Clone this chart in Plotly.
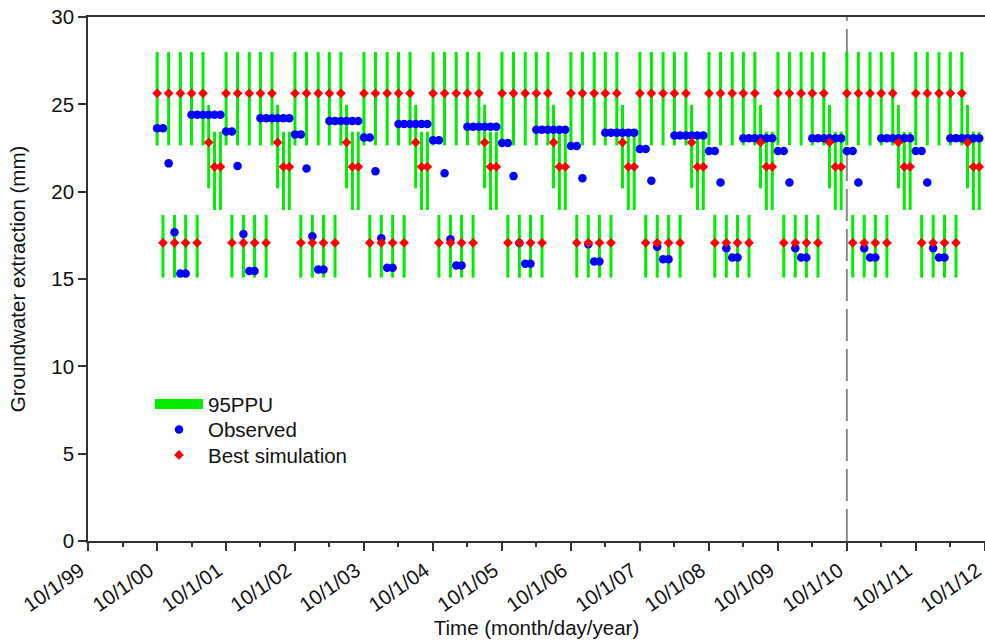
import pandas as pd
import plotly.graph_objects as go

# ---- data ----
water_years = list(range(2000, 2012))          # Oct of each year .. Sep of next
month_labels = ["Oct", "Nov", "Dec", "Jan", "Feb", "Mar",
                "Apr", "May", "Jun", "Jul", "Aug", "Sep"]

# monthly pattern of best simulation and 95PPU bounds (identical every year)
sim_month = [25.63, 17.07, 25.63, 17.07, 25.63, 17.07,
             25.63, 17.07, 25.63, 22.82, 21.42, 21.42]
ppu_low_month = [22.65, 15.08, 22.65, 15.08, 22.65, 15.08,
                 22.65, 15.08, 22.65, 20.19, 18.95, 18.95]
ppu_high_month = [28.00, 18.67, 28.00, 18.67, 28.00, 18.67,
                  28.00, 18.67, 28.00, 24.96, 23.43, 23.43]

# observed values per water year (Oct..Sep)
obs_2000 = [23.63, 23.63, 21.62, 17.67, 15.31, 15.31, 24.41, 24.41, 24.41, 24.41, 24.41, 24.41]
obs_2001 = [23.44, 23.44, 21.47, 17.58, 15.46, 15.46, 24.20, 24.20, 24.20, 24.20, 24.20, 24.20]
obs_2002 = [23.28, 23.28, 21.33, 17.45, 15.54, 15.54, 24.04, 24.04, 24.04, 24.04, 24.04, 24.04]
obs_2003 = [23.10, 23.10, 21.17, 17.33, 15.64, 15.64, 23.87, 23.87, 23.87, 23.87, 23.87, 23.87]
obs_2004 = [22.94, 22.94, 21.05, 17.27, 15.78, 15.78, 23.72, 23.72, 23.72, 23.72, 23.72, 23.72]
obs_2005 = [22.79, 22.79, 20.89, 17.06, 15.87, 15.87, 23.54, 23.54, 23.54, 23.54, 23.54, 23.54]
obs_2006 = [22.61, 22.61, 20.77, 16.99, 16.00, 16.00, 23.38, 23.38, 23.38, 23.38, 23.38, 23.38]
obs_2007 = [22.44, 22.44, 20.63, 16.85, 16.13, 16.13, 23.21, 23.21, 23.21, 23.21, 23.21, 23.21]
obs_2008 = [22.33, 22.33, 20.52, 16.76, 16.23, 16.23, 23.06, 23.06, 23.06, 23.06, 23.06, 23.06]
obs_2009 = [22.33, 22.33, 20.52, 16.76, 16.23, 16.23, 23.06, 23.06, 23.06, 23.06, 23.06, 23.06]
obs_2010 = [22.33, 22.33, 20.52, 16.76, 16.23, 16.23, 23.06, 23.06, 23.06, 23.06, 23.06, 23.06]
obs_2011 = [22.33, 22.33, 20.52, 16.76, 16.23, 16.23, 23.06, 23.06, 23.06, 23.06, 23.06, 23.06]
observed_by_year = [obs_2000, obs_2001, obs_2002, obs_2003, obs_2004, obs_2005,
                    obs_2006, obs_2007, obs_2008, obs_2009, obs_2010, obs_2011]

tick_dates = ["%d-10-01" % y for y in range(1999, 2013)]
tick_text = ["10/1/%02d" % (y % 100) for y in range(1999, 2013)]
minor_dates = ["%d-04-01" % y for y in range(2000, 2013)]
split_date = "2010-10-01"

# ---- assemble series ----
dates = pd.date_range("2000-10-01", periods=len(water_years) * 12, freq="MS")
observed = [v for yr in observed_by_year for v in yr]
simulated = sim_month * len(water_years)
ppu_low = ppu_low_month * len(water_years)
ppu_high = ppu_high_month * len(water_years)

seg_x, seg_y = [], []
for d, lo, hi in zip(dates, ppu_low, ppu_high):
    seg_x += [d, d, None]
    seg_y += [lo, hi, None]

FONT = "Liberation Sans, Arial, sans-serif"
FS = 20.5
GREEN = "#00EE00"

fig = go.Figure()
fig.add_trace(go.Scatter(x=seg_x, y=seg_y, mode="lines", name="95PPU",
                         line=dict(color=GREEN, width=3), showlegend=False,
                         legendgroup="ppu", hoverinfo="skip"))
fig.add_trace(go.Scatter(x=[None], y=[None], mode="lines", name="95PPU",
                         line=dict(color=GREEN, width=14), legendgroup="ppu",
                         legend="legend"))
fig.add_trace(go.Scatter(x=dates, y=observed, mode="markers", name="Observed",
                         marker=dict(color="#0000FF", size=8.5, symbol="circle"),
                         legend="legend2"))
fig.add_trace(go.Scatter(x=dates, y=simulated, mode="markers", name="Best simulation",
                         marker=dict(color="#FF0000", size=7.5, symbol="diamond"),
                         legend="legend3"))

fig.add_shape(type="line", xref="x", yref="paper", x0=split_date, x1=split_date,
              y0=0, y1=1, layer="below",
              line=dict(color="#8a8a8a", width=2, dash="32px,8px"))

def leg(y):
    return dict(x=0.0691, y=y, xanchor="left", yanchor="middle",
                bgcolor="rgba(0,0,0,0)", font=dict(family=FONT, size=FS, color="#111"),
                itemwidth=48, borderwidth=0)

fig.update_layout(
    width=985, height=643,
    margin=dict(l=88, r=0, t=17, b=102, autoexpand=False),
    paper_bgcolor="white", plot_bgcolor="white",
    font=dict(family=FONT, size=FS, color="#111"),
    legend=leg(0.2612), legend2=leg(0.2125), legend3=leg(0.1638),
    xaxis=dict(type="date", range=["1999-10-01", "2012-10-01 12:00"],
               automargin=False,
               tickmode="array", tickvals=tick_dates, ticktext=tick_text,
               tickangle=-35, ticklabeloverflow="allow", ticklabelshift=-8,
               ticks="outside", ticklen=8, tickwidth=1.5,
               tickcolor="#333", showline=True, linecolor="#333", linewidth=1.5,
               mirror=True, showgrid=False, zeroline=False,
               minor=dict(tickmode="array", tickvals=minor_dates, ticks="outside",
                          ticklen=4, tickwidth=1.5, tickcolor="#333"),
               title=dict(text="Time (month/day/year)", standoff=6,
                          font=dict(family=FONT, size=FS, color="#111")),
               tickfont=dict(family=FONT, size=FS, color="#111")),
    yaxis=dict(range=[0, 30], tickmode="array", tickvals=[0, 5, 10, 15, 20, 25, 30],
               automargin=False,
               ticks="outside", ticklen=8, tickwidth=1.5, tickcolor="#333",
               showline=True, linecolor="#333", linewidth=1.5,
               showgrid=False, zeroline=False,
               title=dict(text="Groundwater extraction (mm)", standoff=20,
                          font=dict(family=FONT, size=FS, color="#111")),
               tickfont=dict(family=FONT, size=FS, color="#111")),
)

fig.write_html("out.html")
